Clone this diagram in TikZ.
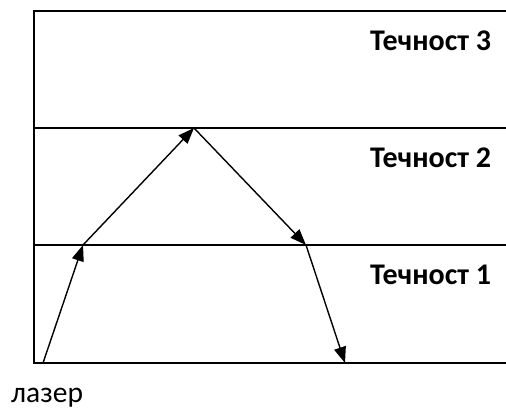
\documentclass[tikz,border=0pt]{standalone}
\usepackage{fontspec}
\setmainfont{Carlito}
\usetikzlibrary{arrows.meta}
\tikzset{
  frame/.style={line width=1.6pt, line cap=rect},
  ray/.style={line width=1.4pt, -{Triangle[length=16pt,width=12pt]}},
  layerlabel/.style={font=\fontsize{30}{33}\selectfont\bfseries, inner sep=0pt, anchor=base west},
  srclabel/.style={font=\fontsize{29.5}{32}\selectfont, inner sep=0pt, anchor=base west}
}
\begin{document}
\begin{tikzpicture}[x=1pt,y=-1pt]
\useasboundingbox (0,0) rectangle (506,410);
% frame
\coordinate (tl) at (34,11);
\coordinate (tr) at (507,11);
\coordinate (bl) at (34,363);
\coordinate (br) at (507,363);
\coordinate (m2l) at (34,128);
\coordinate (m2r) at (507,128);
\coordinate (m1l) at (34,245);
\coordinate (m1r) at (507,245);
\draw[frame] (tr) -- (tl) -- (bl) -- (br);
\draw[line width=1.4pt] (m2l) -- (m2r);
\draw[line width=1.4pt] (m1l) -- (m1r);
% ray points
\coordinate (A) at (43,363);
\coordinate (B) at (83,245);
\coordinate (C) at (194,128);
\coordinate (D) at (306,245);
\coordinate (E) at (345,363);
\draw[ray] (A) -- (B);
\draw[ray] (B) -- (C);
\draw[ray] (C) -- (D);
\draw[ray] (D) -- (E);
% labels
\node[layerlabel] (t3) at (370,50) {Течност 3};
\node[layerlabel] (t2) at (370,167) {Течност 2};
\node[layerlabel] (t1) at (370,284) {Течност 1};
\node[srclabel] (laser) at (11,402) {лазер};
\end{tikzpicture}
\end{document}
